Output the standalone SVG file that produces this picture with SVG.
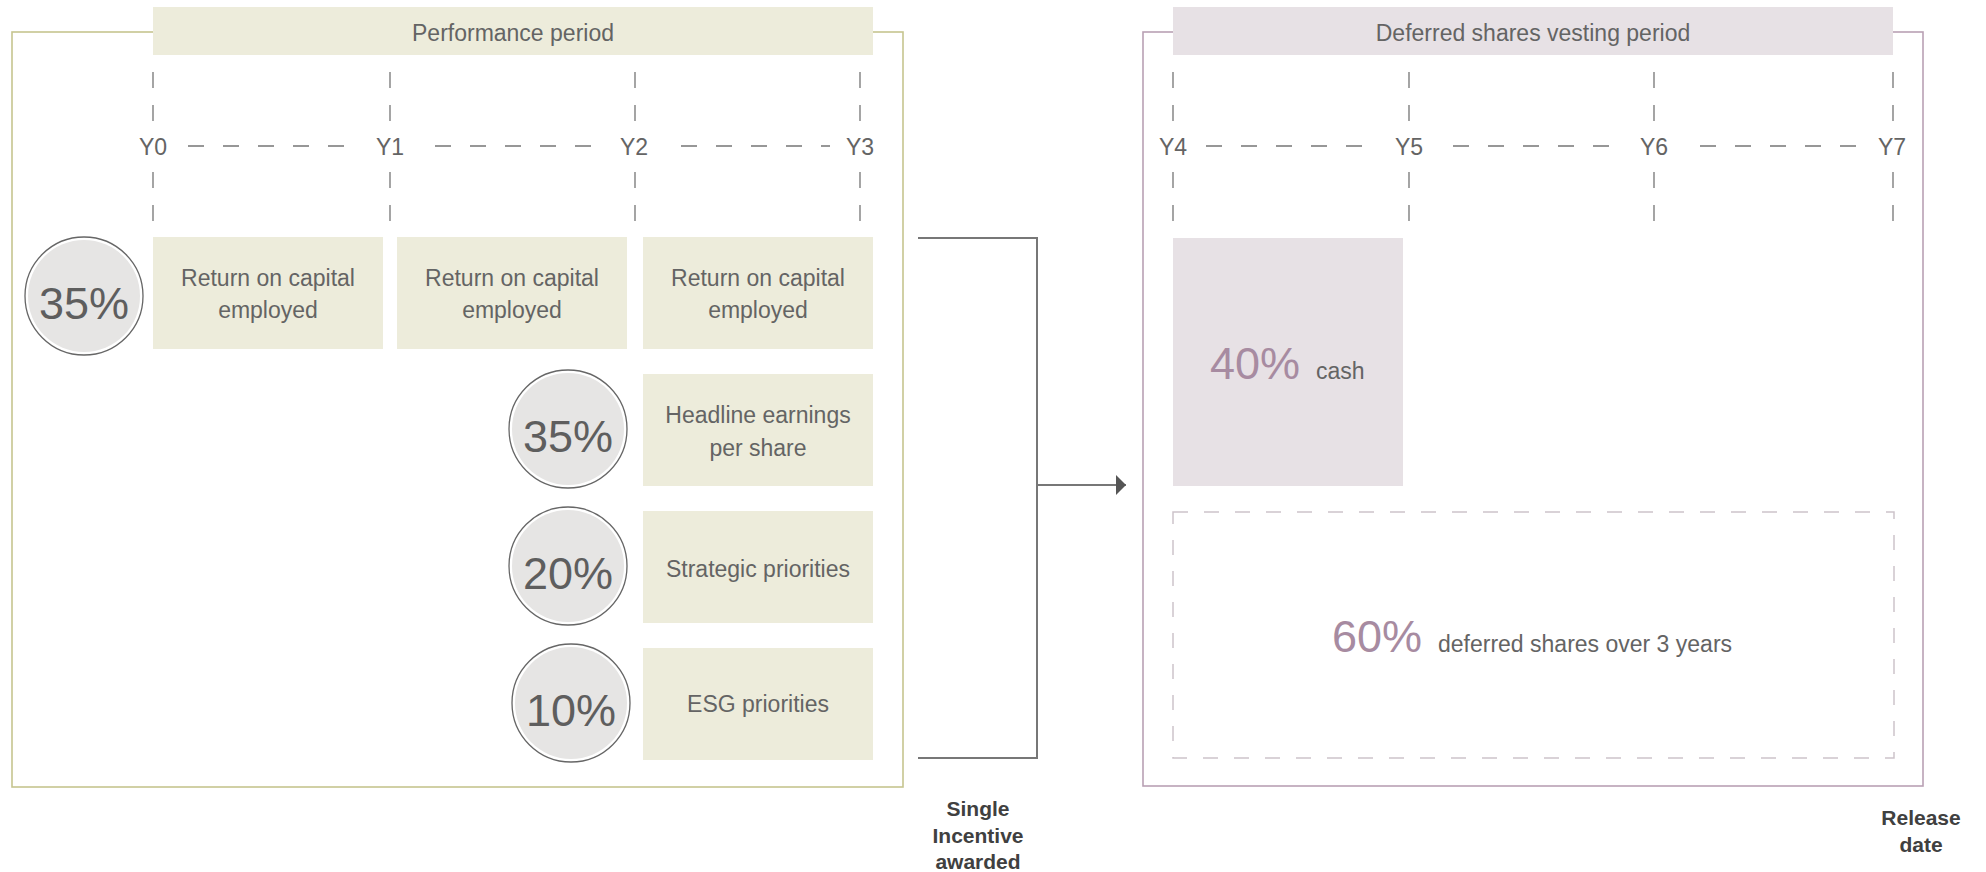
<svg xmlns="http://www.w3.org/2000/svg" width="1986" height="872" viewBox="0 0 1986 872">
  <style>
    .t { font-family: "Liberation Sans", Arial, sans-serif; fill: #646464; }
    .lbl { font-size: 23px; text-anchor: middle; }
    .pct { font-size: 45px; text-anchor: middle; fill: #5e5e5e; }
    .ppct { font-size: 45px; fill: #a78ba1; }
    .bold { font-family: "Liberation Sans", Arial, sans-serif; font-weight: bold; font-size: 21px; fill: #404040; text-anchor: middle; }
    .perf-frame { fill: none; stroke: #c6c58f; stroke-width: 1.6; }
    .def-frame { fill: none; stroke: #b9a1b4; stroke-width: 1.6; }
    .perf-fill { fill: #edecdb; }
    .def-fill { fill: #e7e1e5; }
    .tick { stroke: #757575; stroke-width: 1.3; stroke-dasharray: 16 17; fill: none; }
    .hdash { stroke: #757575; stroke-width: 1.3; stroke-dasharray: 16 19; fill: none; }
    .ring { fill: #ffffff; stroke: #666666; stroke-width: 1.3; }
    .disc { fill: #e6e5e4; }
    .conn { fill: none; stroke: #777777; stroke-width: 2; }
  </style>
  <defs>
    <marker id="arrow" markerWidth="10" markerHeight="20" refX="10" refY="10" orient="auto" markerUnits="userSpaceOnUse">
      <path d="M0,0 L10,10 L0,20 Z" fill="#555555"/>
    </marker>
  </defs>

  <rect width="1986" height="872" fill="#ffffff"/>

  <!-- Performance period frame -->
  <g id="performance-period">
    <rect class="perf-frame" x="12" y="32" width="891" height="755"/>
    <rect class="perf-fill" x="153" y="7" width="720" height="48"/>
    <text class="t lbl" x="513" y="41">Performance period</text>
  </g>

  <!-- Performance timeline -->
  <g id="timeline-perf">
    <path class="tick" d="M153,72 V122 M153,172 V222"/>
    <path class="tick" d="M390,72 V122 M390,172 V222"/>
    <path class="tick" d="M635,72 V122 M635,172 V222"/>
    <path class="tick" d="M860,72 V122 M860,172 V222"/>
    <text class="t lbl" x="153" y="155">Y0</text>
    <text class="t lbl" x="390" y="155">Y1</text>
    <text class="t lbl" x="634" y="155">Y2</text>
    <text class="t lbl" x="860" y="155">Y3</text>
    <path class="hdash" d="M188,146 H346"/>
    <path class="hdash" d="M435,146 H593"/>
    <path class="hdash" d="M681,146 H830"/>
  </g>

  <!-- Measures -->
  <g id="roce-1">
    <rect class="perf-fill" x="153" y="237" width="230" height="112"/>
    <text class="t lbl" x="268" y="286">Return on capital</text>
    <text class="t lbl" x="268" y="318">employed</text>
  </g>
  <g id="roce-2">
    <rect class="perf-fill" x="397" y="237" width="230" height="112"/>
    <text class="t lbl" x="512" y="286">Return on capital</text>
    <text class="t lbl" x="512" y="318">employed</text>
  </g>
  <g id="roce-3">
    <rect class="perf-fill" x="643" y="237" width="230" height="112"/>
    <text class="t lbl" x="758" y="286">Return on capital</text>
    <text class="t lbl" x="758" y="318">employed</text>
  </g>
  <g id="roce-weight">
    <circle class="ring" cx="84" cy="296" r="59"/>
    <circle class="disc" cx="84" cy="296" r="56"/>
    <text class="t pct" x="84" y="319">35%</text>
  </g>

  <g id="heps">
    <rect class="perf-fill" x="643" y="374" width="230" height="112"/>
    <text class="t lbl" x="758" y="423">Headline earnings</text>
    <text class="t lbl" x="758" y="456">per share</text>
  </g>
  <g id="heps-weight">
    <circle class="ring" cx="568" cy="429" r="59"/>
    <circle class="disc" cx="568" cy="429" r="56"/>
    <text class="t pct" x="568" y="452">35%</text>
  </g>

  <g id="strategic">
    <rect class="perf-fill" x="643" y="511" width="230" height="112"/>
    <text class="t lbl" x="758" y="577">Strategic priorities</text>
  </g>
  <g id="strategic-weight">
    <circle class="ring" cx="568" cy="566" r="59"/>
    <circle class="disc" cx="568" cy="566" r="56"/>
    <text class="t pct" x="568" y="589">20%</text>
  </g>

  <g id="esg">
    <rect class="perf-fill" x="643" y="648" width="230" height="112"/>
    <text class="t lbl" x="758" y="712">ESG priorities</text>
  </g>
  <g id="esg-weight">
    <circle class="ring" cx="571" cy="703" r="59"/>
    <circle class="disc" cx="571" cy="703" r="56"/>
    <text class="t pct" x="571" y="726">10%</text>
  </g>

  <!-- Connectors -->
  <g id="connectors">
    <path class="conn" d="M918,238 H1037 V758 H918"/>
    <path class="conn" d="M1037,485 H1126" marker-end="url(#arrow)"/>
  </g>

  <g id="single-incentive">
    <text class="bold" x="978" y="816">Single</text>
    <text class="bold" x="978" y="843">Incentive</text>
    <text class="bold" x="978" y="869">awarded</text>
  </g>

  <!-- Deferred shares vesting period frame -->
  <g id="vesting-period">
    <rect class="def-frame" x="1143" y="32" width="780" height="754"/>
    <rect class="def-fill" x="1173" y="7" width="720" height="48"/>
    <text class="t lbl" x="1533" y="41">Deferred shares vesting period</text>
  </g>

  <g id="timeline-vest">
    <path class="tick" d="M1173,72 V122 M1173,172 V222"/>
    <path class="tick" d="M1409,72 V122 M1409,172 V222"/>
    <path class="tick" d="M1654,72 V122 M1654,172 V222"/>
    <path class="tick" d="M1893,72 V122 M1893,172 V222"/>
    <text class="t lbl" x="1173" y="155">Y4</text>
    <text class="t lbl" x="1409" y="155">Y5</text>
    <text class="t lbl" x="1654" y="155">Y6</text>
    <text class="t lbl" x="1892" y="155">Y7</text>
    <path class="hdash" d="M1206,146 H1364"/>
    <path class="hdash" d="M1453,146 H1612"/>
    <path class="hdash" d="M1700,146 H1859"/>
  </g>

  <g id="cash">
    <rect class="def-fill" x="1173" y="238" width="230" height="248"/>
    <text class="t ppct" x="1210" y="379">40%</text>
    <text class="t" x="1316" y="379" font-size="23">cash</text>
  </g>

  <g id="deferred-shares">
    <rect x="1173" y="512" width="721" height="246" fill="none" stroke="#cdc3ca" stroke-width="1.5" stroke-dasharray="15 16"/>
    <text class="t ppct" x="1332" y="652">60%</text>
    <text class="t" x="1438" y="652" font-size="23">deferred shares over 3 years</text>
  </g>

  <g id="release-date">
    <text class="bold" x="1921" y="825">Release</text>
    <text class="bold" x="1921" y="852">date</text>
  </g>
</svg>
